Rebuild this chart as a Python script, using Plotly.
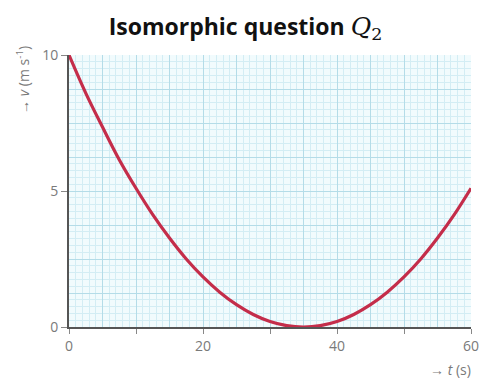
import plotly.graph_objects as go

# velocity-time readings along the curve
t_s = [0, 2.5, 5, 7.5, 10, 12.5, 15, 17.5, 20, 22.5, 25, 27.5, 30, 32.5, 35,
       37.5, 40, 42.5, 45, 47.5, 50, 52.5, 55, 57.5, 60]
v_ms = [10.0, 8.6, 7.35, 6.15, 5.1, 4.13, 3.27, 2.5, 1.84, 1.28, 0.82, 0.46, 0.2,
        0.05, 0.0, 0.05, 0.2, 0.46, 0.82, 1.28, 1.84, 2.5, 3.27, 4.13, 5.1]

x_tick_vals = [0, 10, 20, 30, 40, 50, 60]
x_tick_text = ["0", "", "20", "", "40", "", "60"]
y_tick_vals = [0, 5, 10]
y_tick_text = ["0", "5", "10"]

# graph-paper grid: minor squares, heavier line every five squares
x_grid_major = [i * 5 for i in range(13)]
y_grid_major = [i * 1.25 for i in range(9)]

line_col = "#c42d4a"
grid_minor = "#d3edf4"
grid_major = "#b4dce8"
tick_col = "#7a7a7a"

fig = go.Figure()
fig.add_trace(go.Scatter(x=t_s, y=v_ms, mode="lines", line=dict(color=line_col, width=3.2, shape="spline"),
                         hoverinfo="skip", showlegend=False))
# empty trace so the labelled axes are drawn
fig.add_trace(go.Scatter(x=[None], y=[None], xaxis="x2", yaxis="y2", showlegend=False, hoverinfo="skip"))

fig.update_layout(
    width=491, height=387,
    margin=dict(l=69, r=13, t=55, b=60),
    paper_bgcolor="white",
    plot_bgcolor="#f1fbfd",
    title=dict(
        text="<b>Isomorphic question</b> <span style='font-family:\"DejaVu Serif\";font-size:25px'><i>Q</i><sub>2</sub></span>",
        x=0.5, xanchor="center", y=0.93, yanchor="middle",
        font=dict(family="Open Sans", size=23, color="#111"),
    ),
    xaxis=dict(range=[0, 60], tickvals=x_grid_major, showticklabels=False, ticks="",
               showgrid=True, gridcolor=grid_major, gridwidth=1,
               minor=dict(dtick=1, showgrid=True, gridcolor=grid_minor, gridwidth=1),
               zeroline=False, showline=False, fixedrange=True),
    yaxis=dict(range=[0, 10], tickvals=y_grid_major, showticklabels=False, ticks="",
               showgrid=True, gridcolor=grid_major, gridwidth=1,
               minor=dict(dtick=0.25, showgrid=True, gridcolor=grid_minor, gridwidth=1),
               zeroline=False, showline=False, fixedrange=True),
    xaxis2=dict(range=[0, 60], overlaying="x", side="bottom", tickvals=x_tick_vals, ticktext=x_tick_text,
                ticks="outside", ticklen=5, tickcolor="#888", showgrid=False, zeroline=False,
                showline=True, linecolor="#555", linewidth=2,
                tickfont=dict(family="Open Sans", size=14, color=tick_col)),
    yaxis2=dict(range=[0, 10], overlaying="y", side="left", tickvals=y_tick_vals, ticktext=y_tick_text,
                ticks="outside", ticklen=6, tickcolor="#888", showgrid=False, zeroline=False,
                showline=True, linecolor="#555", linewidth=2,
                tickfont=dict(family="Open Sans", size=14, color=tick_col)),
    annotations=[
        dict(text="→ <i>v</i> (m s<sup>-1</sup>)", xref="paper", yref="paper", x=-0.115, y=1.04,
             xanchor="center", yanchor="top", textangle=-90, showarrow=False,
             font=dict(family="Open Sans", size=14, color=tick_col)),
        dict(text="→ <i>t</i> (s)", xref="paper", yref="paper", x=1.005, y=-0.158,
             xanchor="right", yanchor="middle", showarrow=False,
             font=dict(family="Open Sans", size=14, color=tick_col)),
    ],
)

fig.write_html("out.html")
